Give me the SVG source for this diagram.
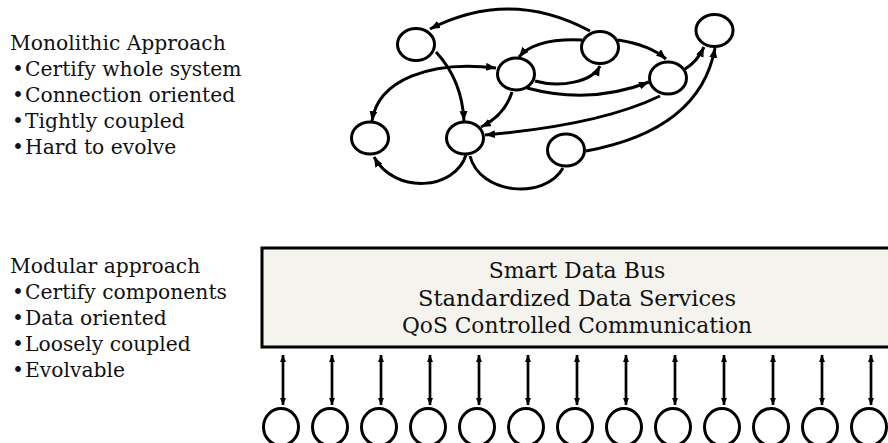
<svg xmlns="http://www.w3.org/2000/svg" width="888" height="443" viewBox="0 0 888 443">
<defs>
<style>
.t{font-family:"DejaVu Serif","Liberation Serif",serif;font-size:20.3px;fill:#111}
.bt{font-family:"DejaVu Serif","Liberation Serif",serif;font-size:22px;fill:#111;text-anchor:middle}
.n{fill:#fff;stroke:#000;stroke-width:3}
.e{fill:none;stroke:#000;stroke-width:3}
.a{fill:none;stroke:#000;stroke-width:2.7}
</style>
<marker id="ah" markerUnits="userSpaceOnUse" markerWidth="12" markerHeight="10" refX="10" refY="4" orient="auto-start-reverse">
<path d="M0,0 L10,4 L0,8 Z" fill="#000"/>
</marker>
<marker id="sh" markerUnits="userSpaceOnUse" markerWidth="8" markerHeight="8" refX="7" refY="3" orient="auto-start-reverse">
<path d="M0,0 L7,3 L0,6 Z" fill="#000"/>
</marker>
</defs>
<rect width="888" height="443" fill="#fff"/>

<g id="text-monolithic">
<text class="t" x="10" y="50">Monolithic Approach</text>
<text class="t" y="76"><tspan x="12">•</tspan><tspan x="25">Certify whole system</tspan></text>
<text class="t" y="102"><tspan x="12">•</tspan><tspan x="25">Connection oriented</tspan></text>
<text class="t" y="128"><tspan x="12">•</tspan><tspan x="25">Tightly coupled</tspan></text>
<text class="t" y="154"><tspan x="12">•</tspan><tspan x="25">Hard to evolve</tspan></text>
</g>
<g id="text-modular">
<text class="t" x="10" y="273">Modular approach</text>
<text class="t" y="299"><tspan x="12">•</tspan><tspan x="25">Certify components</tspan></text>
<text class="t" y="325"><tspan x="12">•</tspan><tspan x="25">Data oriented</tspan></text>
<text class="t" y="351"><tspan x="12">•</tspan><tspan x="25">Loosely coupled</tspan></text>
<text class="t" y="377"><tspan x="12">•</tspan><tspan x="25">Evolvable</tspan></text>
</g>

<g id="connectors">
<path class="e" d="M590,31 Q510,-12 430,29" marker-end="url(#ah)"/>
<path class="e" d="M436,52 Q462,80 464,121" marker-end="url(#ah)"/>
<path class="e" d="M466,155 C455,190 395,195 374,157" marker-end="url(#ah)"/>
<path class="e" d="M470,156 C480,195 545,200 563,168"/>
<path class="e" d="M586,151 Q700,130 715,48" marker-end="url(#ah)"/>
<path class="e" d="M685,69 Q697,62 704,47" marker-end="url(#ah)"/>
<path class="e" d="M660,96 Q600,125 485,135" marker-end="url(#ah)"/>
<path class="e" d="M512,92 Q505,115 481,127" marker-end="url(#ah)"/>
<path class="e" d="M527,88 Q590,105 649,82" marker-end="url(#ah)"/>
<path class="e" d="M535,81 C560,88 592,82 600,66" marker-end="url(#ah)"/>
<path class="e" d="M582,40 Q535,38 519,57" marker-end="url(#ah)"/>
<path class="e" d="M618,40 Q650,45 666,59" marker-end="url(#ah)"/>
<path class="e" d="M372,121 C378,80 430,60 496,68" marker-start="url(#ah)" marker-end="url(#ah)"/>
</g>

<g id="node-a"><ellipse class="n" cx="416" cy="44.5" rx="18.5" ry="16"/></g>
<g id="node-b"><ellipse class="n" cx="516" cy="74" rx="18.5" ry="16"/></g>
<g id="node-c"><ellipse class="n" cx="600" cy="47.5" rx="18.5" ry="16"/></g>
<g id="node-d"><ellipse class="n" cx="668" cy="78" rx="18.5" ry="16"/></g>
<g id="node-e"><ellipse class="n" cx="714.5" cy="30.5" rx="18.5" ry="16"/></g>
<g id="node-f"><ellipse class="n" cx="370" cy="138" rx="18.5" ry="16"/></g>
<g id="node-g"><ellipse class="n" cx="465" cy="138" rx="18.5" ry="16"/></g>
<g id="node-h"><ellipse class="n" cx="566" cy="150" rx="18.5" ry="16"/></g>

<g id="bus">
<rect x="262" y="248" width="700" height="99" fill="#f4f3ed" stroke="#000" stroke-width="3"/>
<text class="bt" x="577" y="278">Smart Data Bus</text>
<text class="bt" x="577" y="305.5" textLength="318" lengthAdjust="spacingAndGlyphs">Standardized Data Services</text>
<text class="bt" x="577" y="333" textLength="350" lengthAdjust="spacingAndGlyphs">QoS Controlled Communication</text>
</g>

<g id="bus-links">
<path class="a" d="M283,355 V405" marker-start="url(#sh)" marker-end="url(#sh)"/>
<path class="a" d="M332,355 V405" marker-start="url(#sh)" marker-end="url(#sh)"/>
<path class="a" d="M381,355 V405" marker-start="url(#sh)" marker-end="url(#sh)"/>
<path class="a" d="M430,355 V405" marker-start="url(#sh)" marker-end="url(#sh)"/>
<path class="a" d="M479,355 V405" marker-start="url(#sh)" marker-end="url(#sh)"/>
<path class="a" d="M528,355 V405" marker-start="url(#sh)" marker-end="url(#sh)"/>
<path class="a" d="M577,355 V405" marker-start="url(#sh)" marker-end="url(#sh)"/>
<path class="a" d="M626,355 V405" marker-start="url(#sh)" marker-end="url(#sh)"/>
<path class="a" d="M675,355 V405" marker-start="url(#sh)" marker-end="url(#sh)"/>
<path class="a" d="M724,355 V405" marker-start="url(#sh)" marker-end="url(#sh)"/>
<path class="a" d="M773,355 V405" marker-start="url(#sh)" marker-end="url(#sh)"/>
<path class="a" d="M822,355 V405" marker-start="url(#sh)" marker-end="url(#sh)"/>
<path class="a" d="M871,355 V405" marker-start="url(#sh)" marker-end="url(#sh)"/>
</g>

<g id="components">
<ellipse class="n" cx="281" cy="427" rx="17.5" ry="18.5"/>
<ellipse class="n" cx="330" cy="427" rx="17.5" ry="18.5"/>
<ellipse class="n" cx="379" cy="427" rx="17.5" ry="18.5"/>
<ellipse class="n" cx="428" cy="427" rx="17.5" ry="18.5"/>
<ellipse class="n" cx="477" cy="427" rx="17.5" ry="18.5"/>
<ellipse class="n" cx="526" cy="427" rx="17.5" ry="18.5"/>
<ellipse class="n" cx="575" cy="427" rx="17.5" ry="18.5"/>
<ellipse class="n" cx="624" cy="427" rx="17.5" ry="18.5"/>
<ellipse class="n" cx="673" cy="427" rx="17.5" ry="18.5"/>
<ellipse class="n" cx="722" cy="427" rx="17.5" ry="18.5"/>
<ellipse class="n" cx="771" cy="427" rx="17.5" ry="18.5"/>
<ellipse class="n" cx="820" cy="427" rx="17.5" ry="18.5"/>
<ellipse class="n" cx="869" cy="427" rx="17.5" ry="18.5"/>
</g>
</svg>
